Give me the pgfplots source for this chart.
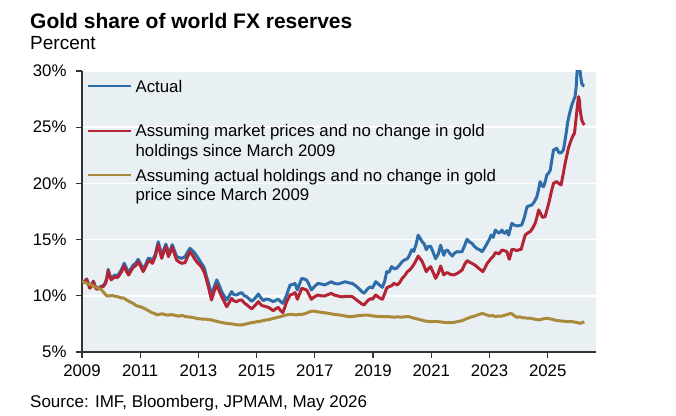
\documentclass[border=0pt]{standalone}
\usepackage{pgfplots}
\pgfplotsset{compat=1.18}
\usepackage{fontspec}
\setmainfont{Liberation Sans}
\definecolor{cblue}{RGB}{47,109,168}
\definecolor{cred}{RGB}{180,36,52}
\definecolor{cgold}{RGB}{168,138,58}
\definecolor{cbg}{RGB}{233,240,244}
\definecolor{caxis}{RGB}{51,51,51}
\newcommand{\lf}{\fontsize{16.8bp}{19.5bp}\selectfont}
\begin{document}
\begin{tikzpicture}
\path[use as bounding box] (0,0) rectangle (676bp,416bp);
\node[anchor=base west, inner sep=0pt, font=\fontsize{21bp}{24bp}\selectfont\bfseries] at (30bp,387.5bp) {Gold share of world FX reserves};
\node[anchor=base west, inner sep=0pt, font=\fontsize{19bp}{22bp}\selectfont] at (30bp,366bp) {Percent};
\node[anchor=base west, inner sep=0pt, font=\fontsize{17bp}{20bp}\selectfont] at (30bp,9bp) {Source: IMF, Bloomberg, JPMAM, May 2026};
\begin{axis}[
  at={(82bp,64bp)}, anchor=south west,
  scale only axis, width=514bp, height=281bp,
  xmin=2009, xmax=2026.66, ymin=5, ymax=30,
  axis x line*=bottom, axis y line*=left,
  axis line style={draw=caxis, line width=1.8bp},
  axis background/.style={fill=cbg},
  xtick={2009,2011,...,2025}, ytick={5,10,...,30},
  /pgf/number format/assume math mode=true,
  xticklabel={\pgfmathprintnumber[1000 sep={},fixed]{\tick}},
  yticklabel={\pgfmathprintnumber{\tick}\%},
  tick label style={font=\lf, text=black},
  x tick label style={yshift=-3bp},
  y tick label style={xshift=-6bp},
  tick style={draw=caxis, line width=1.2bp},
  major tick length=6bp,
  xtick align=outside, ytick align=outside,
  ymajorgrids, grid style={draw=white, line width=1.6bp},
  legend style={at={(axis description cs:0,1)}, anchor=north west,
    xshift=5bp, yshift=-7.6bp, draw=none, fill=none, inner sep=0pt, outer sep=0pt,
    font=\lf, row sep=5.5bp, column sep=3.3bp, cells={anchor=base west},
    nodes={text depth={}, inner sep=0pt}},
  legend image code/.code={\draw[#1, line width=2.3bp] (0bp,6bp) -- (43bp,6bp);},
  every axis plot/.append style={line width=3bp, line join=round},
]
\addplot[color=cblue, no marks] table {
2009.00 11.30
2009.08 11.25
2009.16 11.50
2009.22 11.10
2009.27 10.75
2009.33 11.00
2009.39 11.30
2009.45 10.90
2009.50 10.65
2009.58 10.75
2009.67 10.85
2009.74 10.95
2009.81 11.20
2009.86 11.70
2009.90 12.35
2009.95 11.90
2010.00 11.55
2010.06 11.70
2010.13 11.85
2010.19 11.80
2010.25 11.90
2010.35 12.30
2010.45 12.90
2010.52 12.50
2010.60 12.05
2010.68 12.40
2010.76 12.75
2010.85 12.90
2010.93 13.25
2011.02 12.80
2011.10 12.40
2011.19 12.80
2011.28 13.35
2011.35 13.30
2011.42 13.15
2011.52 13.70
2011.58 14.40
2011.62 14.80
2011.68 14.20
2011.74 13.60
2011.81 14.10
2011.88 14.60
2011.93 14.20
2011.97 13.75
2012.04 14.10
2012.10 14.55
2012.18 14.00
2012.25 13.50
2012.34 13.40
2012.43 13.33
2012.54 13.48
2012.63 13.90
2012.71 14.22
2012.80 14.00
2012.88 13.78
2012.98 13.40
2013.10 12.89
2013.20 12.50
2013.28 11.70
2013.36 11.00
2013.45 10.07
2013.54 10.80
2013.63 11.41
2013.72 10.90
2013.80 10.37
2013.88 10.00
2013.97 9.63
2014.06 10.00
2014.14 10.37
2014.22 10.10
2014.31 10.07
2014.40 10.20
2014.49 10.28
2014.58 10.00
2014.66 9.92
2014.75 9.70
2014.83 9.50
2014.95 9.80
2015.06 10.16
2015.15 9.80
2015.23 9.57
2015.31 9.70
2015.40 9.69
2015.48 9.60
2015.57 9.48
2015.66 9.60
2015.74 9.69
2015.82 9.50
2015.90 9.33
2015.97 9.70
2016.03 10.07
2016.10 10.60
2016.15 10.96
2016.24 11.00
2016.32 11.10
2016.36 10.80
2016.40 10.52
2016.48 11.10
2016.55 11.55
2016.63 11.50
2016.72 11.40
2016.80 11.00
2016.88 10.52
2016.98 10.80
2017.10 11.10
2017.22 11.05
2017.33 10.96
2017.45 11.10
2017.56 11.25
2017.68 11.10
2017.80 11.05
2017.92 11.15
2018.04 11.25
2018.17 11.15
2018.29 11.10
2018.45 10.80
2018.60 10.40
2018.69 10.22
2018.76 10.45
2018.83 10.67
2018.92 10.80
2018.98 10.70
2019.09 11.26
2019.20 11.00
2019.32 10.75
2019.40 11.30
2019.47 12.15
2019.55 12.10
2019.64 12.60
2019.72 12.40
2019.81 12.45
2019.90 12.70
2020.00 13.04
2020.09 13.20
2020.18 13.30
2020.25 13.60
2020.33 14.10
2020.40 13.95
2020.48 14.60
2020.55 15.40
2020.62 15.10
2020.69 14.80
2020.76 14.60
2020.83 14.10
2020.90 14.40
2020.98 14.40
2021.06 13.90
2021.15 13.30
2021.24 13.70
2021.32 14.50
2021.38 14.00
2021.43 13.60
2021.49 14.00
2021.55 14.07
2021.63 13.80
2021.72 13.54
2021.80 13.80
2021.89 13.93
2021.98 13.90
2022.06 13.93
2022.15 14.50
2022.23 15.03
2022.31 14.80
2022.40 14.67
2022.48 14.40
2022.57 14.20
2022.66 14.10
2022.75 13.93
2022.84 14.30
2022.92 14.67
2022.99 15.00
2023.06 15.40
2023.13 15.20
2023.20 15.85
2023.26 15.70
2023.32 15.56
2023.38 15.70
2023.43 15.85
2023.49 15.60
2023.54 15.56
2023.60 15.80
2023.66 15.40
2023.72 16.00
2023.77 16.45
2023.85 16.30
2023.94 16.21
2024.02 16.25
2024.11 16.30
2024.20 17.00
2024.29 17.93
2024.37 18.00
2024.46 18.08
2024.55 18.40
2024.63 18.82
2024.69 19.50
2024.74 20.16
2024.80 19.80
2024.86 19.71
2024.92 20.20
2024.97 20.75
2025.03 20.90
2025.09 21.20
2025.15 22.20
2025.20 22.97
2025.26 23.05
2025.31 23.12
2025.37 22.80
2025.43 22.68
2025.49 22.80
2025.54 22.97
2025.62 24.20
2025.69 25.49
2025.76 26.30
2025.83 26.98
2025.89 27.40
2025.94 27.72
2025.98 28.60
2026.02 30.40
2026.05 31.00
2026.09 30.60
2026.13 29.60
2026.17 28.90
2026.22 28.70
2026.26 28.67
};
\addlegendentry{\parbox[t]{470bp}{\strut Actual\strut\\\strut}}
\addplot[color=cred, no marks] table {
2009.00 11.26
2009.08 11.20
2009.16 11.47
2009.22 11.00
2009.27 10.67
2009.33 10.90
2009.39 11.26
2009.45 10.80
2009.50 10.58
2009.58 10.65
2009.67 10.76
2009.74 10.85
2009.81 11.11
2009.86 11.60
2009.90 12.24
2009.95 11.80
2010.00 11.41
2010.06 11.55
2010.13 11.70
2010.19 11.60
2010.25 11.70
2010.35 12.10
2010.45 12.65
2010.52 12.20
2010.60 11.85
2010.68 12.20
2010.76 12.53
2010.85 12.70
2010.93 13.03
2011.02 12.60
2011.10 12.15
2011.19 12.60
2011.28 13.12
2011.35 13.05
2011.42 12.89
2011.52 13.50
2011.58 14.20
2011.62 14.55
2011.68 13.90
2011.74 13.33
2011.81 13.90
2011.88 14.37
2011.93 13.90
2011.97 13.48
2012.04 13.90
2012.10 14.35
2012.18 13.70
2012.25 13.19
2012.34 13.00
2012.43 12.89
2012.54 12.95
2012.63 13.50
2012.71 13.93
2012.80 13.60
2012.88 13.25
2012.98 12.90
2013.10 12.59
2013.20 12.10
2013.28 11.41
2013.36 10.60
2013.45 9.63
2013.54 10.40
2013.63 10.96
2013.72 10.40
2013.80 9.92
2013.88 9.50
2013.97 9.03
2014.06 9.40
2014.14 9.77
2014.22 9.55
2014.31 9.48
2014.40 9.60
2014.49 9.63
2014.58 9.35
2014.66 9.20
2014.75 9.00
2014.83 8.85
2014.95 9.15
2015.06 9.48
2015.15 9.20
2015.23 9.09
2015.31 9.05
2015.40 8.97
2015.48 8.85
2015.57 8.67
2015.66 8.85
2015.74 8.97
2015.82 8.70
2015.90 8.50
2015.97 9.00
2016.03 9.48
2016.10 9.80
2016.15 10.07
2016.24 10.15
2016.32 10.28
2016.36 10.00
2016.40 9.69
2016.48 10.20
2016.55 10.67
2016.63 10.60
2016.72 10.52
2016.80 10.10
2016.88 9.69
2016.98 9.90
2017.10 10.07
2017.22 10.00
2017.33 9.98
2017.45 10.10
2017.56 10.22
2017.68 10.05
2017.80 9.98
2017.92 9.90
2018.04 9.95
2018.17 9.95
2018.29 9.92
2018.45 9.60
2018.60 9.30
2018.69 9.18
2018.76 9.40
2018.83 9.60
2018.92 9.75
2018.98 9.69
2019.09 10.07
2019.20 9.85
2019.32 9.69
2019.40 10.20
2019.47 10.70
2019.55 10.81
2019.64 10.90
2019.72 11.11
2019.83 10.96
2019.92 11.20
2020.00 11.55
2020.09 11.80
2020.18 12.15
2020.26 12.30
2020.35 12.59
2020.45 13.00
2020.55 13.54
2020.62 13.30
2020.69 13.04
2020.76 12.60
2020.83 12.15
2020.90 12.40
2020.98 12.59
2021.06 12.10
2021.15 11.55
2021.24 12.00
2021.32 12.65
2021.38 12.20
2021.43 11.85
2021.49 12.00
2021.55 12.06
2021.66 11.90
2021.77 11.85
2021.90 12.00
2022.06 12.30
2022.15 12.80
2022.23 13.13
2022.31 13.00
2022.40 12.89
2022.52 12.70
2022.63 12.45
2022.70 12.30
2022.77 12.15
2022.85 12.50
2022.92 12.89
2022.99 13.10
2023.06 13.34
2023.13 13.50
2023.20 13.84
2023.26 13.80
2023.32 13.72
2023.38 13.90
2023.43 14.08
2023.52 14.00
2023.60 13.93
2023.68 13.25
2023.73 13.70
2023.77 14.14
2023.85 14.10
2023.94 14.02
2024.02 14.10
2024.09 14.14
2024.16 14.80
2024.23 15.41
2024.32 15.60
2024.40 15.71
2024.48 16.00
2024.57 16.45
2024.63 17.00
2024.69 17.64
2024.76 17.30
2024.82 16.98
2024.91 17.04
2024.98 17.70
2025.05 18.38
2025.12 19.20
2025.20 20.00
2025.26 20.10
2025.31 20.16
2025.38 20.00
2025.46 19.86
2025.53 20.80
2025.60 21.79
2025.66 22.50
2025.71 23.12
2025.77 23.60
2025.83 24.01
2025.88 24.30
2025.92 24.46
2025.96 25.40
2026.00 26.38
2026.03 27.10
2026.06 27.72
2026.09 27.40
2026.11 26.68
2026.14 26.10
2026.17 25.64
2026.22 25.35
2026.26 25.20
};
\addlegendentry{\parbox[t]{470bp}{\strut Assuming market prices and no change in gold\strut\\\strut holdings since March 2009\strut}}
\addplot[color=cgold, no marks] table {
2009.00 11.25
2009.10 11.20
2009.20 11.05
2009.30 11.00
2009.40 10.85
2009.50 10.75
2009.60 10.65
2009.70 10.45
2009.78 10.20
2009.85 10.00
2009.95 10.00
2010.05 10.02
2010.15 9.95
2010.25 9.90
2010.35 9.80
2010.42 9.82
2010.52 9.65
2010.62 9.50
2010.70 9.40
2010.80 9.25
2010.88 9.10
2010.98 9.05
2011.08 8.95
2011.20 8.80
2011.30 8.65
2011.40 8.50
2011.50 8.42
2011.57 8.30
2011.65 8.35
2011.75 8.40
2011.85 8.32
2011.95 8.28
2012.05 8.32
2012.14 8.30
2012.25 8.22
2012.35 8.20
2012.45 8.25
2012.55 8.15
2012.65 8.12
2012.75 8.10
2012.85 8.05
2012.95 7.98
2013.05 7.95
2013.15 7.92
2013.25 7.92
2013.35 7.88
2013.45 7.85
2013.55 7.78
2013.65 7.72
2013.75 7.65
2013.86 7.60
2013.95 7.55
2014.05 7.52
2014.15 7.50
2014.25 7.45
2014.35 7.42
2014.43 7.40
2014.52 7.42
2014.62 7.48
2014.72 7.55
2014.82 7.60
2014.92 7.65
2015.02 7.70
2015.12 7.72
2015.22 7.80
2015.32 7.85
2015.42 7.88
2015.52 7.95
2015.62 8.02
2015.72 8.08
2015.82 8.15
2015.92 8.22
2016.03 8.30
2016.15 8.35
2016.25 8.33
2016.35 8.30
2016.45 8.35
2016.55 8.35
2016.65 8.40
2016.75 8.50
2016.85 8.60
2016.95 8.65
2017.05 8.60
2017.15 8.55
2017.25 8.52
2017.35 8.48
2017.45 8.45
2017.55 8.40
2017.65 8.35
2017.75 8.32
2017.85 8.29
2017.95 8.25
2018.05 8.20
2018.15 8.15
2018.29 8.14
2018.40 8.20
2018.55 8.25
2018.70 8.28
2018.81 8.29
2018.95 8.22
2019.10 8.18
2019.25 8.15
2019.40 8.14
2019.55 8.14
2019.70 8.10
2019.85 8.12
2020.00 8.10
2020.12 8.14
2020.23 8.14
2020.35 8.05
2020.50 7.95
2020.65 7.85
2020.80 7.75
2020.98 7.70
2021.15 7.72
2021.30 7.68
2021.45 7.63
2021.60 7.61
2021.75 7.62
2021.90 7.70
2022.06 7.79
2022.20 7.95
2022.30 8.05
2022.40 8.14
2022.50 8.20
2022.62 8.32
2022.75 8.44
2022.84 8.35
2022.92 8.29
2023.00 8.20
2023.10 8.25
2023.20 8.14
2023.30 8.20
2023.40 8.18
2023.50 8.25
2023.62 8.35
2023.74 8.44
2023.84 8.25
2023.94 8.09
2024.05 8.12
2024.15 8.05
2024.28 8.02
2024.40 8.00
2024.50 7.95
2024.60 7.90
2024.69 7.85
2024.80 7.92
2024.90 7.98
2024.97 8.00
2025.08 7.95
2025.20 7.88
2025.30 7.80
2025.37 7.79
2025.50 7.75
2025.62 7.72
2025.72 7.70
2025.83 7.70
2025.95 7.65
2026.05 7.60
2026.11 7.55
2026.18 7.62
2026.26 7.68
};
\addlegendentry{\parbox[t]{470bp}{\strut Assuming actual holdings and no change in gold\strut\\\strut price since March 2009\strut}}
\end{axis}
\end{tikzpicture}
\end{document}
